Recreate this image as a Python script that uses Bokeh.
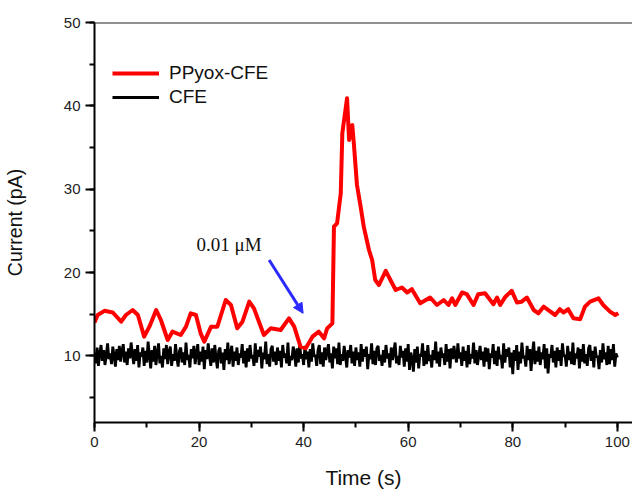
from bokeh.plotting import figure
from bokeh.models import (Range1d, SingleIntervalTicker, Legend, LegendItem, Span,
                          Arrow, NormalHead, Label)
from bokeh.embed import file_html
from bokeh.resources import INLINE

# ---- data ----
ppy_t = [0, 0.6, 1.9, 3.5, 5.1, 6.0, 7.3, 8.3, 9.5, 10.5, 11.8, 12.7, 14.0, 14.9, 16.5,
         17.5, 18.4, 19.4, 20.3, 21.0, 22.3, 23.5, 25.1, 26.1, 27.3, 28.3, 29.6, 30.5,
         32.4, 33.7, 35.6, 37.2, 38.2, 39.4, 40.4, 41.7, 42.9, 43.9, 44.5, 45.5, 45.8,
         46.4, 47.1, 47.4, 48.3, 48.7, 49.0, 49.3, 49.6, 50.2, 50.9, 51.5, 52.5, 53.1,
         53.7, 54.4, 55.7, 56.6, 57.6, 58.8, 59.8, 60.7, 62.3, 64.2, 65.5, 66.8, 67.7,
         68.4, 69.0, 70.3, 71.2, 72.5, 73.4, 74.7, 76.3, 77.0, 77.6, 78.6, 79.8, 80.8,
         81.7, 82.7, 84.0, 84.9, 85.9, 87.2, 88.1, 89.0, 89.7, 90.6, 91.6, 92.9, 93.8,
         94.8, 96.4, 97.3, 98.6, 99.6, 100.2]
ppy_i = [14.0, 14.9, 15.4, 15.2, 14.1, 14.9, 15.5, 14.9, 12.3, 13.5, 15.5, 14.3, 11.9, 12.9,
         12.5, 13.5, 15.1, 14.9, 12.7, 11.7, 13.5, 13.5, 16.7, 16.1, 13.3, 14.1, 16.5, 15.7,
         12.5, 13.3, 13.1, 14.5, 13.5, 11.1, 10.9, 12.3, 12.9, 12.1, 13.3, 13.9, 25.5,
         25.9, 29.5, 36.7, 40.9, 35.9, 37.5, 37.7, 35.5, 30.5, 27.9, 25.5, 22.7, 21.5,
         19.1, 18.5, 20.2, 19.1, 17.9, 18.2, 17.6, 18.0, 16.3, 17.0, 16.1, 16.7, 16.1,
         16.9, 16.1, 17.6, 17.4, 16.1, 17.4, 17.5, 16.2, 17.0, 16.1, 17.1, 17.8, 16.4,
         16.5, 17.0, 15.5, 15.1, 15.9, 15.3, 14.9, 15.6, 15.2, 15.6, 14.5, 14.4, 15.9,
         16.5, 16.9, 16.1, 15.3, 14.9, 15.1]

cfe_i = [
    10.4, 9.1, 11.0, 8.8, 10.2, 11.3, 9.4, 10.7, 8.9, 10.1, 11.5, 9.6, 10.3, 9.0, 11.1, 10.0, 8.7, 10.8, 9.5, 11.2,
    9.3, 10.6, 11.4, 9.2, 10.5, 8.9, 10.9, 9.7, 11.6, 10.2, 9.0, 10.8, 9.4, 11.3, 8.6, 10.4, 9.9, 11.0, 8.8, 10.6,
    9.2, 11.7, 10.1, 8.5, 10.7, 9.3, 11.2, 8.9, 10.3, 11.5, 9.1, 10.0, 8.6, 10.9, 9.6, 11.3, 9.0, 10.5, 11.1, 8.8,
    10.2, 9.4, 11.4, 9.8, 8.7, 10.6, 11.0, 9.2, 10.4, 8.9, 11.6, 9.5, 10.1, 8.6, 10.8, 9.7, 11.2, 9.0, 10.3, 11.4,
    8.9, 10.5, 9.3, 11.1, 8.4, 10.7, 9.6, 11.5, 10.0, 8.8, 10.9, 9.2, 11.3, 9.7, 8.5, 10.6, 11.0, 9.1, 10.4, 8.3,
    10.8, 9.5, 11.6, 9.0, 10.2, 11.2, 8.7, 10.5, 9.4, 11.0, 8.9, 10.3, 9.8, 11.4, 9.1, 10.6, 8.6, 10.9, 9.3, 11.3,
    9.7, 10.1, 8.8, 11.5, 9.2, 10.7, 9.9, 11.1, 8.5, 10.4, 9.6, 11.7, 9.0, 10.2, 8.7, 10.8, 11.2, 9.3, 10.5, 8.9,
    11.0, 9.4, 10.6, 8.6, 11.3, 9.8, 10.3, 9.1, 11.6, 8.8, 10.0, 9.5, 11.1, 10.4, 8.7, 10.9, 9.2, 11.4, 9.7, 10.2,
    8.9, 11.2, 9.6, 10.5, 8.6, 10.8, 9.3, 11.5, 9.9, 10.1, 8.8, 10.7, 11.3, 9.0, 10.4, 8.7, 11.0, 9.5, 10.6, 11.4,
    9.2, 10.3, 8.5, 11.1, 9.7, 10.9, 9.0, 11.6, 8.9, 10.2, 9.4, 11.2, 10.0, 8.6, 10.7, 9.8, 11.3, 9.1, 10.5, 8.8,
    11.0, 9.5, 10.4, 8.7, 11.4, 9.3, 10.8, 9.9, 11.1, 8.4, 10.2, 9.6, 11.5, 9.0, 10.6, 8.9, 10.9, 11.2, 9.4, 10.1,
    8.8, 10.7, 9.2, 11.3, 9.7, 10.3, 8.6, 11.0, 9.5, 10.5, 11.6, 9.1, 10.0, 8.9, 11.2, 9.8, 10.6, 8.7, 10.9, 9.3,
    11.4, 8.3, 10.4, 9.6, 8.1, 10.8, 9.2, 11.1, 8.5, 10.2, 9.9, 11.5, 8.8, 10.6, 9.0, 11.3, 9.4, 10.1, 8.6, 10.7,
    9.5, 11.7, 9.1, 10.5, 8.7, 11.0, 9.8, 10.3, 8.9, 11.4, 9.3, 10.8, 8.5, 10.9, 9.6, 11.2, 10.0, 9.2, 11.5, 9.7,
    10.4, 8.8, 11.1, 9.4, 10.6, 8.6, 11.3, 9.0, 10.2, 9.7, 11.6, 9.1, 10.7, 8.9, 10.0, 11.2, 9.5, 10.5, 8.7, 11.0,
    9.3, 10.9, 8.4, 10.3, 9.8, 11.4, 9.0, 10.6, 8.8, 11.1, 9.6, 10.1, 8.5, 11.5, 9.2, 10.8, 9.9, 11.0, 8.6, 10.4,
    7.8, 10.7, 9.4, 11.3, 8.3, 10.5, 9.1, 11.6, 9.7, 10.0, 8.7, 11.2, 9.5, 10.8, 8.2, 10.3, 11.7, 9.0, 10.6, 9.3,
    11.1, 8.9, 10.4, 9.6, 11.4, 8.5, 10.9, 7.9, 10.2, 9.8, 11.3, 9.2, 10.6, 8.6, 11.0, 9.4, 10.7, 8.8, 11.5, 9.9,
    10.1, 8.7, 11.2, 9.5, 10.5, 9.0, 11.6, 8.9, 10.3, 9.7, 11.0, 8.5, 10.8, 9.3, 11.4, 9.1, 10.2, 8.8, 10.9, 11.3,
    9.4, 10.6, 8.6, 11.1, 9.8, 10.0, 8.4, 10.7, 9.2, 11.5, 9.6, 10.4, 8.9, 11.2, 9.0, 10.8, 9.5, 11.4, 8.7, 10.3,
    9.8]
cfe_t = [k * 0.25 for k in range(len(cfe_i))]

series_names = ["PPyox-CFE", "CFE"]
annotation_text = "0.01 \u03bcM"
arrow_start = (33.4, 21.5)
arrow_end = (39.9, 15.1)
annotation_pos = (19.5, 23.4)

SANS = "Liberation Sans"
SERIF = "Liberation Serif"

p = figure(width=632, height=492, output_backend="svg", toolbar_location=None,
           x_range=Range1d(0, 102.9), y_range=Range1d(2, 50),
           min_border_left=93, min_border_right=0, min_border_top=22, min_border_bottom=70)
p.background_fill_color = "white"
p.border_fill_color = "white"
p.outline_line_color = None
p.grid.visible = False

r_cfe = p.line(cfe_t, cfe_i, line_color="black", line_width=2.8)
r_ppy = p.line(ppy_t, ppy_i, line_color="#ff0000", line_width=4, line_join="round")

# axes
p.xaxis.ticker = SingleIntervalTicker(interval=20, num_minor_ticks=2)
p.yaxis.ticker = SingleIntervalTicker(interval=10, num_minor_ticks=2)
for ax in (p.xaxis, p.yaxis):
    ax.axis_line_width = 2
    ax.axis_line_color = "black"
    ax.major_tick_line_width = 2
    ax.minor_tick_line_width = 2
    ax.major_tick_line_color = "black"
    ax.minor_tick_line_color = "black"
    ax.major_tick_in = 0
    ax.major_tick_out = 9
    ax.minor_tick_in = 0
    ax.minor_tick_out = 5
    ax.major_label_text_font = SANS
    ax.major_label_text_font_size = "15px"
    ax.major_label_text_color = "#222222"
    ax.major_label_standoff = 5
    ax.axis_label_text_font = SANS
    ax.axis_label_text_font_style = "normal"
    ax.axis_label_text_color = "#111111"
p.xaxis.axis_label = "Time (s)"
p.yaxis.axis_label = "Current (pA)"
p.xaxis.axis_label_text_font_size = "21px"
p.yaxis.axis_label_text_font_size = "19.5px"
p.xaxis.axis_label_standoff = 16
p.yaxis.axis_label_standoff = 35

# top frame line
p.add_layout(Span(location=50, dimension="width", line_color="#222222", line_width=2))

# annotation
p.add_layout(Label(x=annotation_pos[0], y=annotation_pos[1], text=annotation_text,
                   text_font=SERIF, text_font_size="19px", text_color="#111111",
                   text_baseline="alphabetic"))
p.add_layout(Arrow(x_start=arrow_start[0], y_start=arrow_start[1],
                   x_end=arrow_end[0], y_end=arrow_end[1],
                   line_color="#2a2aff", line_width=3,
                   end=NormalHead(size=10, fill_color="#2a2aff", line_color="#2a2aff")))

legend = Legend(items=[LegendItem(label=series_names[0], renderers=[r_ppy]),
                       LegendItem(label=series_names[1], renderers=[r_cfe])],
                location=(18, 314))
legend.border_line_color = None
legend.background_fill_alpha = 0
legend.padding = 0
legend.margin = 0
legend.spacing = 2
legend.glyph_width = 47
legend.glyph_height = 20
legend.label_height = 20
legend.label_standoff = 10
legend.label_text_font = SANS
legend.label_text_font_size = "19px"
legend.label_text_color = "#111111"
p.add_layout(legend)

open("out.html", "w").write(file_html(p, INLINE))
